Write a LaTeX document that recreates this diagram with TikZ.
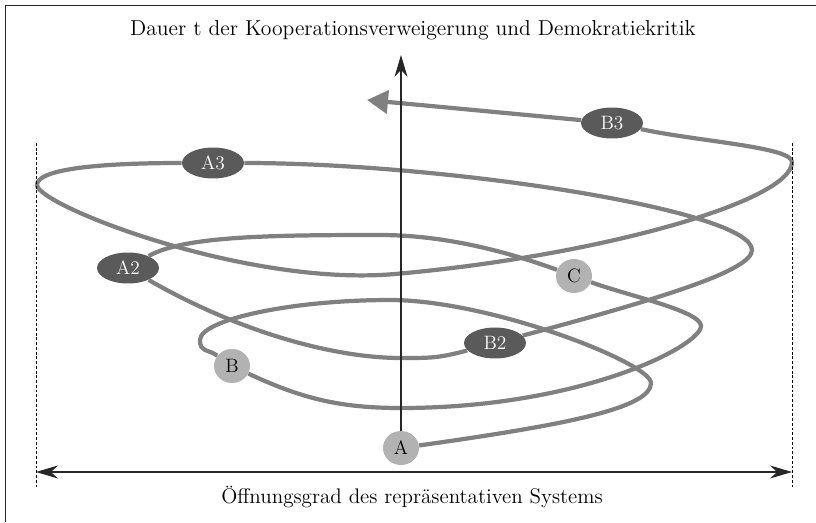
\documentclass[tikz,border=0pt]{standalone}
\usepackage{tikz}
\usetikzlibrary{arrows.meta}
\usetikzlibrary{shapes.geometric}
\definecolor{darkgrey}{RGB}{90,90,90}
\definecolor{lightgrey}{RGB}{178,178,178}
\definecolor{spiralgrey}{RGB}{128,128,128}
\tikzset{darkdot/.style={ellipse,fill=darkgrey,text=white,minimum width=1.24cm,minimum height=0.62cm,inner sep=0pt,font=\fontsize{11}{13}\selectfont}}
\tikzset{lightdot/.style={ellipse,fill=lightgrey,text=black,minimum width=0.72cm,minimum height=0.68cm,inner sep=0pt,font=\fontsize{11}{13}\selectfont}}
\tikzset{spiral/.style={spiralgrey,line width=2.4pt,line join=round}}
\tikzset{axis/.style={black!85,line width=0.6pt}}
\tikzset{guide/.style={black,line width=0.4pt,dash pattern=on 1.6pt off 1.1pt}}
\tikzset{label/.style={font=\fontsize{12}{14}\selectfont}}

\begin{document}
\begin{tikzpicture}[x=0.02cm,y=0.02cm]
                    \useasboundingbox (0,0) rectangle (816,522);
                    \draw[black!85,line width=0.7pt] (5.5,0) -- (5.5,516.5) -- (816,516.5);

                    \node[lightdot] (A) at (401,74) {A};
                    \node[lightdot] (B) at (232,156) {B};
                    \node[lightdot] (C) at (574,246) {C};
                    \node[darkdot] (A2) at (128,254) {A2};
                    \node[darkdot] (B2) at (495,179) {B2};
                    \node[darkdot] (A3) at (213,359) {A3};
                    \node[darkdot] (B3) at (612,399) {B3};

                    \coordinate (r1) at (651,139);
                    \coordinate (t1) at (390,222);
                    \coordinate (l1) at (200,182);
                    \coordinate (bo2) at (401,114);
                    \coordinate (r2) at (701,196);
                    \coordinate (t2) at (380,287);
                    \coordinate (bo3) at (401,164);
                    \coordinate (r3) at (752,272);
                    \coordinate (l3) at (37,337);
                    \coordinate (bo4) at (395,248);
                    \coordinate (r4) at (792,360);
                    \coordinate (tip) at (367,422);

                    \draw[spiral] (A) to[out=8,in=-90,out distance=3cm,in distance=0.5cm] (r1)
                        to[out=90,in=0,out distance=0.4cm,in distance=2cm] (t1)
                        to[out=180,in=90,out distance=2cm,in distance=0.4cm] (l1)
                        to[out=-90,in=145,out distance=0.25cm,in distance=0.25cm] (B);
                    \draw[spiral] (B) to[out=-25,in=180,out distance=1.2cm,in distance=1.2cm] (bo2)
                        to[out=0,in=-90,out distance=3.6cm,in distance=0.4cm] (r2)
                        to[out=90,in=-20,out distance=0.3cm,in distance=0.8cm] (C);
                    \draw[spiral] (C) to[out=160,in=0,out distance=1.2cm,in distance=1.2cm] (t2)
                        to[out=180,in=30,out distance=2.2cm,in distance=0.8cm] (A2);
                    \draw[spiral] (A2) to[out=-30,in=180,out distance=2cm,in distance=1.4cm] (bo3)
                        to[out=0,in=195,out distance=0.6cm,in distance=0.6cm] (B2);
                    \draw[spiral] (B2) to[out=15,in=-90,out distance=3cm,in distance=0.4cm] (r3)
                        to[out=90,in=0,out distance=0.8cm,in distance=4cm] (A3);
                    \draw[spiral] (A3) to[out=180,in=90,out distance=1.8cm,in distance=0.3cm] (l3)
                        to[out=-90,in=185,out distance=0.4cm,in distance=3cm] (bo4)
                        to[out=5,in=-90,out distance=4cm,in distance=0.8cm] (r4)
                        to[out=90,in=-12,out distance=0.3cm,in distance=1.2cm] (B3);
                    \draw[spiral,-{Triangle[length=0.42cm,width=0.46cm]}] (B3) -- (tip);

                    \coordinate (top) at (401,467);
                    \coordinate (xl) at (36,50);
                    \coordinate (xr) at (792,50);
                    \draw[axis,-{Stealth[length=0.44cm,width=0.26cm]}] (A) -- (top);
                    \draw[axis,{Stealth[length=0.44cm,width=0.26cm]}-{Stealth[length=0.44cm,width=0.26cm]}] (xl) -- (xr);
                    \draw[guide] (36,379) -- (36,34);
                    \draw[guide] (792,379) -- (792,34);

                    \node[label,font=\fontsize{12.3}{14}\selectfont] (ylabel) at (413,492) {Dauer t der Kooperationsverweigerung und Demokratiekritik};
                    \node[label] (xlabel) at (412,25) {Öffnungsgrad des repräsentativen Systems};
                \end{tikzpicture}
\end{document}
